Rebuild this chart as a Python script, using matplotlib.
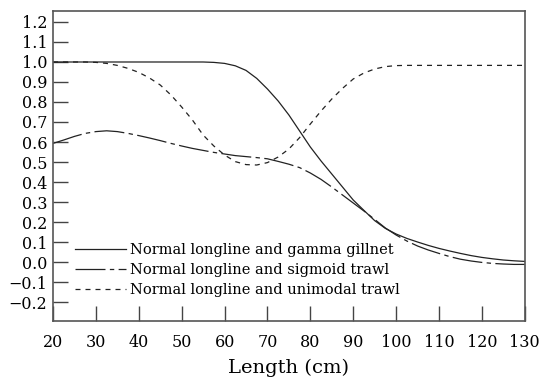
import matplotlib.pyplot as plt

# Dữ liệu
length = [20, 22.5, 25, 27.5, 30, 32.5, 35, 37.5, 40, 42.5, 45, 47.5, 50, 52.5,
          55, 57.5, 60, 62.5, 65, 67.5, 70, 72.5, 75, 77.5, 80, 82.5, 85, 87.5,
          90, 92.5, 95, 97.5, 100, 102.5, 105, 107.5, 110, 112.5, 115, 117.5,
          120, 122.5, 125, 127.5, 130]

gamma_gillnet = [1.0, 1.0, 1.0, 1.0, 1.0, 1.0, 1.0, 1.0, 1.0, 1.0, 1.0, 1.0,
                 1.0, 1.0, 1.0, 0.998, 0.993, 0.981, 0.958, 0.918, 0.865, 0.805,
                 0.735, 0.655, 0.575, 0.505, 0.44, 0.375, 0.31, 0.258, 0.207,
                 0.168, 0.14, 0.118, 0.1, 0.083, 0.068, 0.055, 0.043, 0.032,
                 0.023, 0.016, 0.01, 0.006, 0.003]

sigmoid_trawl = [0.593, 0.61, 0.628, 0.643, 0.652, 0.656, 0.652, 0.643, 0.632,
                 0.62, 0.607, 0.593, 0.58, 0.568, 0.558, 0.548, 0.54, 0.532,
                 0.527, 0.522, 0.516, 0.503, 0.489, 0.472, 0.445, 0.413, 0.375,
                 0.335, 0.295, 0.255, 0.213, 0.17, 0.135, 0.105, 0.08, 0.06,
                 0.043, 0.027, 0.014, 0.005, -0.002, -0.007, -0.01, -0.012,
                 -0.012]

unimodal_trawl = [1.0, 1.0, 1.0, 1.0, 0.998, 0.993, 0.983, 0.968, 0.948, 0.92,
                  0.885, 0.835, 0.775, 0.71, 0.635, 0.58, 0.535, 0.502, 0.487,
                  0.485, 0.497, 0.525, 0.565, 0.622, 0.69, 0.755, 0.815, 0.868,
                  0.915, 0.945, 0.965, 0.977, 0.982, 0.983, 0.983, 0.983,
                  0.983, 0.983, 0.983, 0.983, 0.983, 0.983, 0.983, 0.983, 0.983]

labels = ["Normal longline and gamma gillnet",
          "Normal longline and sigmoid trawl",
          "Normal longline and unimodal trawl"]

xticks = list(range(20, 131, 10))
yticks = [-0.2, -0.1, 0.0, 0.1, 0.2, 0.3, 0.4, 0.5, 0.6, 0.7, 0.8, 0.9,
          1.0, 1.1, 1.2]

plt.rcParams['font.family'] = ['DejaVu Serif']

fig = plt.figure(figsize=(5.41, 3.79), dpi=100)
ax = fig.add_axes([0.098, 0.153, 0.872, 0.818])

c = '#222222'
ax.plot(length, gamma_gillnet, color=c, lw=0.9, ls='-', label=labels[0])
ax.plot(length, sigmoid_trawl, color=c, lw=0.9, ls=(0, (24, 3.5, 3.5, 3.5)),
        label=labels[1])
ax.plot(length, unimodal_trawl, color=c, lw=0.9, ls=(0, (4, 4)),
        label=labels[2])

ax.set_xlim(20, 130)
ax.set_ylim(-0.295, 1.255)
ax.set_xticks(xticks)
ax.set_yticks(yticks)
ax.set_yticklabels([f"{v:.1f}".replace('-', '\u2212') for v in yticks])
ax.tick_params(direction='in', length=11, width=1, color='#444444',
               labelsize=11.5, pad=4)
ax.tick_params(axis='x', pad=9)
for s in ax.spines.values():
    s.set_color('#555555')
    s.set_linewidth(1.2)

ax.set_xlabel('Length (cm)', fontsize=14, labelpad=6)

ax.legend(loc='upper left', bbox_to_anchor=(0.025, 0.283), frameon=False,
          fontsize=10.5, handlelength=3.5, handletextpad=0.3,
          labelspacing=0.4, borderpad=0.2)

plt.savefig('out.png', dpi=100)
